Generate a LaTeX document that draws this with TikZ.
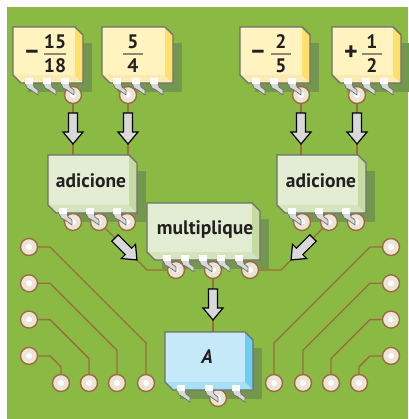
\documentclass[tikz,border=0pt]{standalone}
\usepackage{fontspec}
\setmainfont{PT Sans}

\definecolor{board}{HTML}{8AB944}
\definecolor{boardshade}{HTML}{74974F}
\definecolor{copper}{HTML}{9C6B3F}
\definecolor{padfill}{HTML}{EDE4D8}
\definecolor{yelfront}{HTML}{FFF3BF}
\definecolor{yelside}{HTML}{FFE06A}
\definecolor{yelbase}{HTML}{FCEBB0}
\definecolor{grnfront}{HTML}{E2EDD3}
\definecolor{grnside}{HTML}{C5DBA2}
\definecolor{grnbase}{HTML}{D4E5BC}
\definecolor{blufront}{HTML}{C6E9F9}
\definecolor{bluside}{HTML}{6BCFF2}
\definecolor{blubase}{HTML}{A6DFF6}
\definecolor{chipline}{HTML}{6F6F6F}
\definecolor{ink}{HTML}{231F20}
\definecolor{barline}{HTML}{8F8A78}

\tikzset{
  trace/.style={copper, line width=1.3pt},
  pad/.style={circle, draw=copper, fill=padfill, line width=1.4pt,
    minimum size=17pt, inner sep=0pt,
    path picture={\fill[white] (path picture bounding box.center) circle (3pt);}},
  chipedge/.style={draw=chipline, line width=1.4pt, line join=miter},
  lead/.style={fill=gray!30, draw=chipline, line width=0.7pt, line join=round},
  blockarrow/.style={fill=gray!30, draw=black, line width=1.2pt, line join=miter},
  chiptext/.style={font=\bfseries\fontsize{19.5}{22}\selectfont, text=ink},
  signtext/.style={font=\bfseries\fontsize{26}{28}\selectfont, text=ink,
    anchor=base, inner sep=0pt},
}

% chip body: left, top, width, height, colour set, pin offsets
\newcommand{\pcbchip}[6]{%
  \begin{scope}[shift={(#1,#2)}]
    \fill[#5front] (0,0) rectangle ({#3-8},{#4-8});
    \fill[#5side] ({#3-8},0) -- (#3,8) -- (#3,#4) -- ({#3-8},{#4-8}) -- cycle;
    \fill[#5base] (0,{#4-8}) -- ({#3-8},{#4-8}) -- (#3,#4) -- (8,#4) -- cycle;
    \draw[chipedge] (0,0) -- ({#3-8},0) -- (#3,8) -- (#3,#4) -- (8,#4) -- (0,{#4-8}) -- cycle;
    \foreach \p in {#6}{
      \filldraw[lead] (\p,#4) -- ++(8,0) -- ++(1,4) -- ++(4,3) -- ++(0,5)
        -- ++(-7,-5) -- ++(-4,-2) -- cycle;
      \fill[white] (\p,{#4-5}) rectangle ++(8,6);
    }
  \end{scope}}

% block arrow sitting on a trace, pointing down before rotation
\newcommand{\pcbarrow}[2]{%
  \draw[blockarrow, shift={(#1)}, rotate=#2] (-4.5,0) -- (-4.5,19) -- (-10,19)
    -- (0,31) -- (10,19) -- (4.5,19) -- (4.5,0) -- cycle;}

\begin{document}
\begin{tikzpicture}[x=1pt,y=-1pt]
  \useasboundingbox (0,0) rectangle (408,419);
  % --- the board
  \fill[board] (7,7) rectangle (408,419);

  % --- drop shadows under every chip
  \foreach \x/\y/\w/\h in {13/27/70/56, 102/27/71/56, 240/27/70/56, 332/27/69/56,
                           48/155/89/58, 277/155/89/58, 147/203/113/57, 165/332/88/58}
    \fill[boardshade] ({\x+15},{\y+16}) rectangle ({\x+\w+9},{\y+\h+9});

  % --- pads under the chips
  \node[pad] (y1) at (73,95) {};
  \node[pad] (y2) at (128,95) {};
  \node[pad] (y3) at (301,95) {};
  \node[pad] (y4) at (357,95) {};
  \node[pad] (s1a) at (73,222) {};
  \node[pad] (s1b) at (99,222) {};
  \node[pad] (s1c) at (127,222) {};
  \node[pad] (s2a) at (302,222) {};
  \node[pad] (s2b) at (329,222) {};
  \node[pad] (s2c) at (356,222) {};
  \node[pad] (m1) at (176,270) {};
  \node[pad] (m2) at (213,270) {};
  \node[pad] (m3) at (250,270) {};
  \node[pad] (ap) at (218,398) {};

  % --- chip inputs on the top edges
  \coordinate (s1in1) at (73,155);
  \coordinate (s1in2) at (128,155);
  \coordinate (s2in1) at (301,155);
  \coordinate (s2in2) at (357,155);
  \coordinate (ain) at (213,332);

  % --- traces between the chips
  \draw[trace] (y1) -- (s1in1);
  \draw[trace] (y2) -- (s1in2);
  \draw[trace] (y3) -- (s2in1);
  \draw[trace] (y4) -- (s2in2);
  \draw[trace] (s1b) -- (147,270) -- (m1);
  \draw[trace] (s2b) -- (281,270) -- (m3);
  \draw[trace] (m2) -- (ain);

  % --- spare pads along both sides, routed to the bottom row
  \foreach \i/\bx in {0/146,1/117,2/89,3/61}{
    \pgfmathsetmacro\ly{247+36.3*\i}
    \pgfmathsetmacro\by{\ly+\bx-50}
    \node[pad] (l\i) at (29,\ly) {};
    \node[pad] (lb\i) at (\bx,383) {};
    \node[pad] (r\i) at (391,\ly) {};
    \node[pad] (rb\i) at ({420-\bx},383) {};
    \draw[trace] (l\i) -- (50,\ly) -- (\bx,\by) -- (lb\i);
    \draw[trace] (r\i) -- (370,\ly) -- ({420-\bx},\by) -- (rb\i);
  }

  % --- the chips
  \pcbchip{13}{27}{70}{56}{yel}{12,30,48}
  \pcbchip{102}{27}{71}{56}{yel}{11,30,48}
  \pcbchip{240}{27}{70}{56}{yel}{12,30,48}
  \pcbchip{332}{27}{69}{56}{yel}{12,30,48}
  \pcbchip{48}{155}{89}{58}{grn}{11,38,65}
  \pcbchip{277}{155}{89}{58}{grn}{11,38,65}
  \pcbchip{147}{203}{113}{57}{grn}{16,34,52,70,88}
  \pcbchip{165}{332}{88}{58}{blu}{12,40,67}

  % --- arrows along the traces
  \pcbarrow{73,113}{0}
  \pcbarrow{128,113}{0}
  \pcbarrow{301,113}{0}
  \pcbarrow{357,113}{0}
  \pcbarrow{115,238}{45}
  \pcbarrow{313,238}{-45}
  \pcbarrow{213,289}{0}

  % --- fractions on the input chips
  \foreach \c/\fx/\bw/\nu/\de in {1/55/11/15/18, 2/133/10/5/4, 3/281/10/2/5, 4/372/10/1/2}{
    \node[chiptext] (n\c) at (\fx,42) {\nu};
    \node[chiptext] (d\c) at (\fx,66) {\de};
    \draw[barline, line width=1.4pt] ({\fx-\bw},54) -- ({\fx+\bw},54);
  }
  \node[signtext] (sg1) at (32,61) {−};
  \node[signtext] (sg3) at (258,61) {−};
  \node[signtext] (sg4) at (351,61) {+};

  % --- chip names
  \node[chiptext] (sum1) at (91,181) {adicione};
  \node[chiptext] (sum2) at (321,181) {adicione};
  \node[chiptext] (prod) at (205,230) {multiplique};
  \node[chiptext, font=\bfseries\itshape\fontsize{19.5}{22}\selectfont] (res) at (207,357) {A};
\end{tikzpicture}
\end{document}
